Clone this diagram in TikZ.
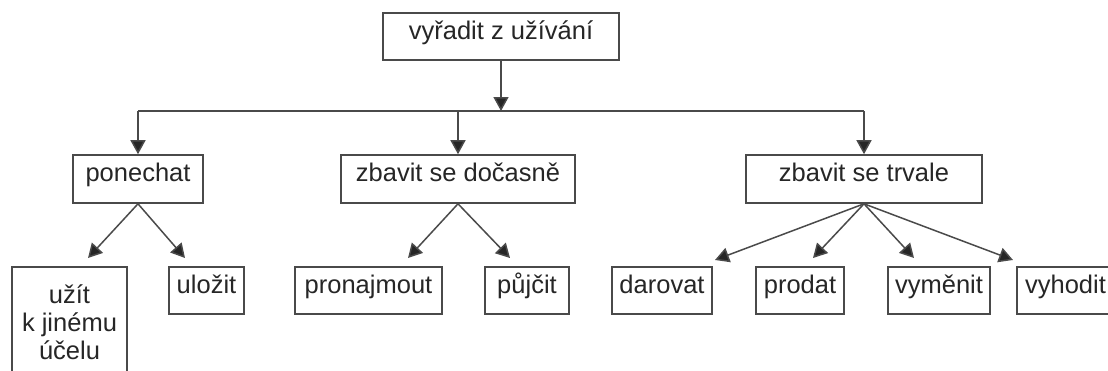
\documentclass[tikz,border=0pt]{standalone}
\usepackage{fontspec}
\setmainfont{Liberation Sans}
\usetikzlibrary{arrows.meta}
\definecolor{ink}{HTML}{262626}
\definecolor{rule}{HTML}{4A4A4A}
\tikzset{
  box/.style={draw=rule, line width=1.6pt, fill=white, text=ink, inner sep=0pt,
    font=\fontsize{25.5}{28}\selectfont, minimum height=47},
  one/.style={text height=0.75em, text depth=0.25em},
  link/.style={draw=rule, line width=1.5pt},
  arr/.style={link, -{Triangle[length=14pt,width=15pt,fill=ink]}},
}
\begin{document}
\begin{tikzpicture}[x=1pt,y=-1pt]
\useasboundingbox (0,0) rectangle (1108,370);
% levels of the tree
\node[box,one,minimum width=236] (top) at (501,36.5) {vyřadit z užívání};
\node[box,one,minimum width=130,minimum height=48] (pon) at (138,179) {ponechat};
\node[box,one,minimum width=234,minimum height=48] (doc) at (458,179) {zbavit se dočasně};
\node[box,one,minimum width=236,minimum height=48] (trv) at (864,179) {zbavit se trvale};
\node[box,align=center,minimum width=115,minimum height=110] (uzit) at (69.5,322) {užít\\k jinému\\účelu};
\node[box,one,minimum width=75] (ulo) at (206.5,290.5) {uložit};
\node[box,one,minimum width=147] (pro) at (368.5,290.5) {pronajmout};
\node[box,one,minimum width=84] (puj) at (527,290.5) {půjčit};
\node[box,one,minimum width=100] (dar) at (662,290.5) {darovat};
\node[box,one,minimum width=88] (prod) at (800,290.5) {prodat};
\node[box,one,minimum width=102] (vym) at (939,290.5) {vyměnit};
\node[box,one,minimum width=97] (vyh) at (1065.5,290.5) {vyhodit};
% branching bar under the root
\coordinate (bar) at (501,111);
\draw[arr] (top.south) -- (top.south |- bar);
\draw[link] (pon.north |- bar) -- (trv.north |- bar);
\draw[arr] (pon.north |- bar) -- (pon.north);
\draw[arr] (doc.north |- bar) -- (doc.north);
\draw[arr] (trv.north |- bar) -- (trv.north);
% arrow tips that stop short of the lowest row
\coordinate (t1) at (88,258);
\coordinate (t2) at (185,258);
\coordinate (t3) at (408,258);
\coordinate (t4) at (510,258);
\coordinate (t5) at (715,260);
\coordinate (t6) at (813,258);
\coordinate (t7) at (914,258);
\coordinate (t8) at (1013,260);
\draw[arr] (pon.south) -- (t1);
\draw[arr] (pon.south) -- (t2);
\draw[arr] (doc.south) -- (t3);
\draw[arr] (doc.south) -- (t4);
\draw[arr] (trv.south) -- (t5);
\draw[arr] (trv.south) -- (t6);
\draw[arr] (trv.south) -- (t7);
\draw[arr] (trv.south) -- (t8);
\end{tikzpicture}
\end{document}
